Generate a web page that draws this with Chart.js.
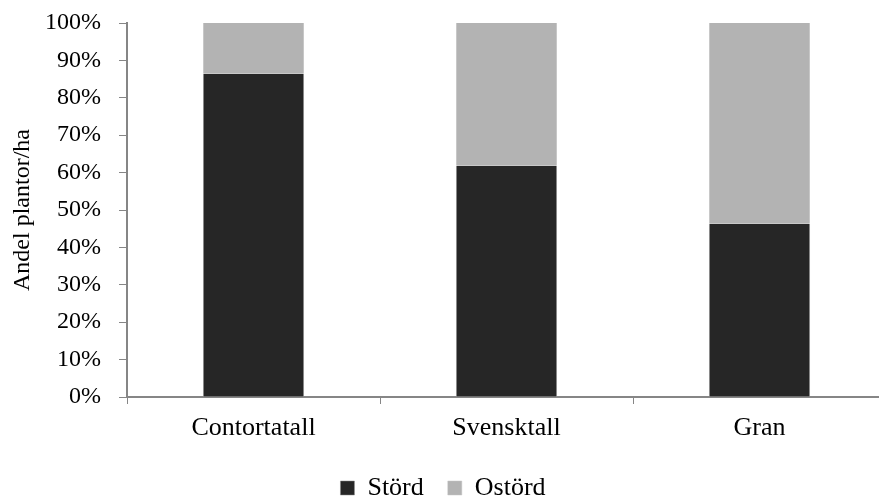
<!DOCTYPE html>
<html>
<head>
<meta charset="utf-8">
<script src="https://cdn.jsdelivr.net/npm/chart.js@4/dist/chart.umd.min.js"></script>
<style>
  html, body { margin: 0; padding: 0; background: #fff; overflow: hidden; }
  #wrap { width: 890px; height: 496px; }
</style>
</head>
<body>
<div id="wrap"><canvas id="chart" width="890" height="496"></canvas></div>
<script>
// Species on the x axis
const categories = ['Contortatall', 'Svensktall', 'Gran'];
// Share of plants per ha (%)
const stordValues = [86.4, 61.8, 46.3];
const ostordValues = [13.6, 38.2, 53.7];
const yTicks = [0, 10, 20, 30, 40, 50, 60, 70, 80, 90, 100];

const family = '"Liberation Serif", "Times New Roman", serif';
const font = { family: family, size: 24 };
const bigFont = { family: family, size: 26 };
const axisGray = '#868686';

// fix the legend block height so the plot area lands where it should
const legendHeight = {
    id: 'legendHeight',
    beforeInit(chart) {
        const fit = chart.legend.fit;
        chart.legend.fit = function() {
            fit.bind(chart.legend)();
            this.height = 45;
        };
    }
};

new Chart(document.getElementById('chart'), {
    type: 'bar',
    data: {
        labels: categories,
        datasets: [
            {
                label: 'Störd',
                data: stordValues,
                backgroundColor: '#262626',
                borderColor: '#8a8a8a',
                borderWidth: { left: 1, right: 1, top: 0, bottom: 0 },
                borderSkipped: false,
                categoryPercentage: 1,
                barPercentage: 0.4
            },
            {
                label: 'Ostörd',
                data: ostordValues,
                backgroundColor: '#b3b3b3',
                borderColor: '#c4c4c4',
                borderWidth: { left: 1, right: 1, top: 0, bottom: 0 },
                borderSkipped: false,
                categoryPercentage: 1,
                barPercentage: 0.4
            }
        ]
    },
    options: {
        responsive: false,
        animation: false,
        layout: { padding: { top: 23, left: 0, right: 4, bottom: 0 } },
        plugins: {
            tooltip: { enabled: false },
            legend: {
                position: 'bottom',
                labels: {
                    font: bigFont,
                    color: '#000',
                    boxWidth: 14,
                    boxHeight: 14,
                    padding: 24
                }
            }
        },
        scales: {
            x: {
                stacked: true,
                offset: true,
                border: { color: axisGray, width: 2 },
                grid: { drawOnChartArea: false, drawTicks: true, tickLength: 7, color: axisGray, offset: true },
                ticks: { font: bigFont, color: '#000', padding: 9 },
                afterFit: function(scale) { scale.height = 54; }
            },
            y: {
                stacked: true,
                min: 0,
                max: 100,
                afterBuildTicks: function(scale) {
                    scale.ticks = yTicks.map(v => ({ value: v }));
                },
                border: { color: axisGray, width: 2 },
                grid: { drawOnChartArea: false, drawTicks: true, tickLength: 8, color: axisGray },
                ticks: {
                    font: font,
                    color: '#000',
                    padding: 18,
                    callback: function(value) { return value + '%'; }
                },
                title: {
                    display: true,
                    text: 'Andel plantor/ha',
                    font: font,
                    color: '#000',
                    padding: { top: 8, bottom: 0 }
                },
                afterFit: function(scale) {
                    scale.width = 127;
                    scale.paddingTop = 0;
                    scale.paddingBottom = 0;
                }
            }
        }
    },
    plugins: [legendHeight]
});
</script>
</body>
</html>
